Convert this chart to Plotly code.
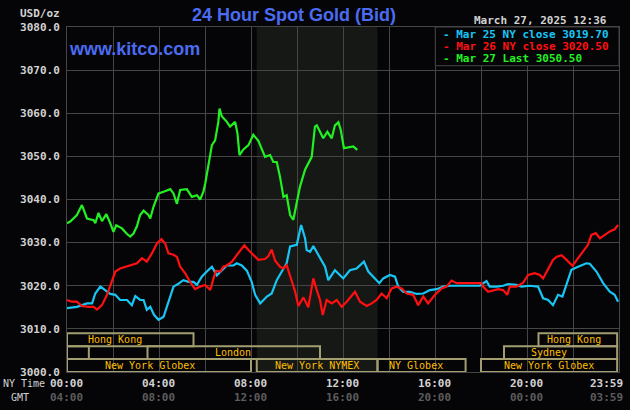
import plotly.graph_objects as go

# ---------------- data ----------------
t_mar25 = [0.00, 0.43, 0.87, 1.09, 1.23, 1.45, 1.66, 1.88, 2.10, 2.31, 2.61, 2.82, 2.97, 3.18, 3.33,
           3.47, 3.62, 3.79, 3.98, 4.20, 4.34, 4.49, 4.63, 4.85, 5.06, 5.28, 5.50, 5.65, 5.86, 6.08,
           6.30, 6.51, 6.73, 6.95, 7.24, 7.38, 7.60, 7.82, 8.03, 8.18, 8.40, 8.69, 8.90, 9.12, 9.34,
           9.55, 9.70, 9.99, 10.18, 10.35, 10.42, 10.57, 10.71, 10.97, 11.22, 11.36, 11.65, 12.01,
           12.30, 12.59, 12.91, 13.10, 13.32, 13.58, 13.75, 14.04, 14.26, 14.40, 14.62, 14.91, 15.20,
           15.49, 15.78, 16.07, 16.36, 16.65, 17.95, 18.24, 18.38, 18.68, 18.96, 19.18, 19.54, 19.76,
           20.12, 20.48, 20.70, 20.92, 21.13, 21.35, 21.54, 21.72, 21.93, 22.22, 22.58, 22.73, 23.02,
           23.31, 23.60, 23.81, 23.96]
p_mar25 = [3014.8, 3015.1, 3015.9, 3015.9, 3018.2, 3019.8, 3019.0, 3018.1, 3017.9, 3016.7, 3016.7,
           3015.5, 3017.6, 3016.7, 3016.7, 3014.4, 3015.1, 3013.2, 3012.1, 3012.8, 3015.1, 3017.5,
           3019.8, 3020.5, 3021.3, 3020.9, 3020.9, 3020.2, 3022.1, 3023.3, 3024.4, 3022.4, 3023.5,
           3024.7, 3024.7, 3025.2, 3024.7, 3023.5, 3020.9, 3017.9, 3015.9, 3017.5, 3018.2, 3021.3,
           3023.3, 3025.2, 3029.1, 3029.5, 3034.1, 3031.0, 3028.3, 3027.9, 3029.2, 3026.7, 3024.4,
           3021.3, 3023.6, 3021.7, 3023.6, 3024.0, 3025.6, 3023.3, 3022.1, 3020.6, 3021.7, 3022.5,
           3022.1, 3019.8, 3018.6, 3018.6, 3018.1, 3018.2, 3019.0, 3019.2, 3019.8, 3020.0, 3020.0,
           3021.1, 3019.8, 3019.8, 3020.0, 3020.4, 3020.2, 3019.8, 3020.0, 3019.8, 3017.1, 3016.7,
           3015.5, 3017.9, 3017.5, 3020.6, 3023.7, 3024.4, 3025.2, 3025.1, 3023.3, 3020.6, 3018.6,
           3017.9, 3016.3]

t_mar26 = [0.00, 0.22, 0.43, 0.65, 0.94, 1.16, 1.30, 1.52, 1.74, 1.95, 2.10, 2.31, 2.53, 2.75, 3.04,
           3.26, 3.47, 3.69, 3.91, 4.10, 4.27, 4.41, 4.63, 4.78, 4.92, 5.14, 5.35, 5.57, 5.79, 6.01,
           6.23, 6.37, 6.48, 6.66, 6.80, 6.95, 7.17, 7.38, 7.56, 7.71, 7.89, 8.10, 8.32, 8.61, 8.76,
           8.90, 9.05, 9.26, 9.41, 9.55, 9.77, 9.92, 10.06, 10.28, 10.49, 10.71, 10.86, 11.00, 11.12,
           11.29, 11.51, 11.73, 11.94, 12.16, 12.52, 12.74, 13.03, 13.25, 13.46, 13.68, 13.90, 14.12,
           14.33, 14.55, 14.77, 15.05, 15.27, 15.49, 15.70, 16.00, 16.29, 16.50, 16.72, 16.94, 18.02,
           18.09, 18.31, 18.53, 18.74, 18.96, 19.14, 19.25, 19.54, 19.83, 20.05, 20.34, 20.56, 20.70,
           20.92, 21.13, 21.28, 21.50, 21.72, 21.98, 22.22, 22.43, 22.65, 22.80, 22.99, 23.17, 23.38,
           23.60, 23.81, 23.96]
p_mar26 = [3016.7, 3016.3, 3016.3, 3015.3, 3015.1, 3015.1, 3014.5, 3015.5, 3017.9, 3021.3, 3023.3,
           3024.0, 3024.4, 3024.7, 3025.2, 3026.4, 3025.6, 3027.5, 3029.8, 3030.8, 3029.8, 3027.5,
           3027.2, 3026.7, 3024.4, 3022.9, 3020.9, 3019.2, 3019.8, 3020.2, 3019.0, 3021.7, 3023.5,
           3023.3, 3024.4, 3024.7, 3025.6, 3027.1, 3028.3, 3029.4, 3028.3, 3027.1, 3026.0, 3026.2,
           3026.9, 3028.4, 3025.8, 3024.4, 3024.0, 3024.8, 3020.9, 3018.6, 3015.3, 3017.3, 3015.0,
           3021.7, 3019.0, 3016.7, 3013.2, 3016.7, 3015.9, 3016.7, 3015.1, 3016.3, 3018.6, 3016.3,
           3015.3, 3015.9, 3016.7, 3018.2, 3017.1, 3019.4, 3019.8, 3019.4, 3018.2, 3017.9, 3015.5,
           3017.5, 3015.9, 3017.9, 3019.4, 3019.8, 3021.2, 3020.6, 3020.6, 3019.8, 3018.6, 3019.0,
           3019.2, 3019.0, 3017.9, 3019.8, 3019.8, 3020.7, 3022.5, 3022.9, 3022.5, 3021.7, 3024.0,
           3026.0, 3026.7, 3027.1, 3026.0, 3024.6, 3026.4, 3027.9, 3029.5, 3031.8, 3032.2, 3031.0,
           3031.8, 3032.6, 3033.1, 3034.1]

t_mar27 = [0.00, 0.14, 0.43, 0.65, 0.87, 1.16, 1.23, 1.37, 1.52, 1.71, 1.88, 2.02, 2.14, 2.39, 2.61,
           2.75, 2.89, 3.04, 3.18, 3.33, 3.54, 3.62, 3.76, 3.98, 4.20, 4.49, 4.63, 4.78, 4.92, 5.21,
           5.43, 5.65, 5.79, 5.93, 6.01, 6.15, 6.30, 6.44, 6.58, 6.63, 6.73, 6.95, 7.09, 7.31, 7.41,
           7.50, 7.67, 7.89, 8.10, 8.32, 8.61, 8.83, 8.97, 9.12, 9.26, 9.41, 9.55, 9.70, 9.84, 9.99,
           10.13, 10.35, 10.64, 10.78, 10.86, 11.00, 11.14, 11.32, 11.51, 11.65, 11.80, 11.90, 12.04,
           12.23, 12.45, 12.62]
p_mar27 = [3034.5, 3034.9, 3036.4, 3038.7, 3035.6, 3035.2, 3034.5, 3036.9, 3035.0, 3036.6, 3034.5,
           3032.5, 3034.0, 3033.3, 3032.0, 3031.4, 3032.1, 3033.8, 3036.4, 3037.4, 3036.4, 3035.6,
           3038.3, 3041.4, 3041.8, 3042.4, 3041.4, 3039.0, 3042.2, 3042.4, 3040.6, 3041.0, 3040.0,
           3041.8, 3043.7, 3047.6, 3052.6, 3053.7, 3058.0, 3061.1, 3059.3, 3058.0, 3056.9, 3058.0,
           3055.4, 3050.3, 3051.6, 3052.6, 3055.0, 3053.6, 3049.9, 3050.3, 3048.7, 3048.7, 3045.3,
           3040.6, 3041.0, 3036.4, 3035.3, 3039.3, 3043.0, 3046.9, 3049.9, 3056.9, 3057.2, 3055.7,
           3054.2, 3055.7, 3054.2, 3057.2, 3057.9, 3056.2, 3051.9, 3052.1, 3052.3, 3051.5]

legend_labels = ["- Mar 25 NY close 3019.70", "- Mar 26 NY close 3020.50", "- Mar 27 Last 3050.50"]

tick_hours = [0, 4, 8, 12, 16, 20, 24]
ny_labels = ["00:00", "04:00", "08:00", "12:00", "16:00", "20:00", "23:59"]
gmt_labels = ["04:00", "08:00", "12:00", "16:00", "20:00", "00:00", "03:59"]

# trading sessions (row 0 = New York, 1 = London/Sydney, 2 = Hong Kong)
session_names = ["Hong Kong", "", "London", "New York Globex", "New York NYMEX", "NY Globex",
                 "New York Globex", "Sydney", "Hong Kong"]
session_start = [0.0, 0.0, 3.5, 0.0, 8.25, 13.5, 18.0, 19.0, 20.5]
session_end = [5.5, 0.95, 11.0, 8.0, 13.5, 17.33, 23.92, 23.92, 23.92]
session_row = [2, 1, 1, 0, 0, 0, 0, 1, 2]

nymex_start, nymex_end = 8.25, 13.5

title_text = "24 Hour Spot Gold (Bid)"
site_text = "www.kitco.com"
date_text = "March 27, 2025 12:36"

# ---------------- layout helpers ----------------
W, H = 630, 410
L, R, T, B = 67, 11, 27, 38
PW, PH = W - L - R, H - T - B
Y0, Y1 = 3000, 3080
ROW_H = 3.0


def px(x):
    return (x - L) / PW


def py(y):
    return (H - B - y) / PH


BG = "#050507"
GRID = "#454545"
MONO = "DejaVu Sans Mono"
SANS = "Liberation Sans, Arial"
LIGHT = "#d2d2d2"
BLUE = "#4b6cf2"
GOLD = "#ffbf00"
BOX = "#a29e70"
CYAN, RED, GREEN = "#18c6f4", "#ff1010", "#22f022"

fig = go.Figure()
for t, p, c in [(t_mar25, p_mar25, CYAN), (t_mar26, p_mar26, RED), (t_mar27, p_mar27, GREEN)]:
    fig.add_trace(go.Scatter(x=t, y=p, mode="lines", line=dict(color=c, width=2.2),
                             hoverinfo="skip", showlegend=False))

shapes = [dict(type="rect", xref="x", yref="paper", x0=nymex_start, x1=nymex_end, y0=0, y1=1,
               fillcolor="#151815", line=dict(width=0), layer="below")]
annotations = []
label_at = [2.10, None, 7.2, 3.62, 10.87, 15.17, 20.95, 20.95, 22.03]
for name, s, e, r, la in zip(session_names, session_start, session_end, session_row, label_at):
    y0 = Y0 + r * ROW_H
    shapes.append(dict(type="rect", xref="x", yref="y", x0=s, x1=e, y0=y0, y1=y0 + ROW_H,
                       line=dict(color=BOX, width=2), fillcolor="rgba(0,0,0,0)", layer="above"))
    if name:
        annotations.append(dict(x=la, y=y0 + ROW_H / 2, xref="x", yref="y", text=name,
                                showarrow=False, font=dict(family=MONO, size=10, color=GOLD),
                                xanchor="center", yanchor="middle"))

# legend box
shapes.append(dict(type="rect", xref="paper", yref="paper", x0=px(435.3), x1=1, y0=py(65.7), y1=1,
                   fillcolor=BG, line=dict(color=GRID, width=1), layer="above"))
for lab, c, yy in zip(legend_labels, [CYAN, RED, GREEN], [34.5, 46.2, 58.8]):
    annotations.append(dict(x=px(441), y=py(yy), xref="paper", yref="paper", text=lab,
                            showarrow=False, font=dict(family=MONO, size=11, color=c, weight="bold"),
                            xanchor="left", yanchor="middle"))

annotations += [
    dict(x=px(294), y=py(15.5), xref="paper", yref="paper", text=title_text, showarrow=False,
         font=dict(family=SANS, size=18, color=BLUE, weight="bold"), xanchor="center", yanchor="middle"),
    dict(x=px(67), y=py(48.5), xref="paper", yref="paper", text=site_text, showarrow=False,
         font=dict(family=SANS, size=18, color=BLUE, weight="bold"), xanchor="left", yanchor="middle"),
    dict(x=px(609), y=py(20), xref="paper", yref="paper", text=date_text, showarrow=False,
         font=dict(family=MONO, size=11, color=LIGHT, weight="bold"), xanchor="right", yanchor="middle"),
    dict(x=px(62), y=py(13.3), xref="paper", yref="paper", text="USD/oz", showarrow=False,
         font=dict(family=MONO, size=11, color=LIGHT, weight="bold"), xanchor="right", yanchor="middle"),
    dict(x=px(1), y=py(383.5), xref="paper", yref="paper", text="NY Time", showarrow=False,
         font=dict(family=MONO, size=10, color=LIGHT), xanchor="left", yanchor="middle"),
    dict(x=px(19.5), y=py(397.5), xref="paper", yref="paper", text="GMT", showarrow=False,
         font=dict(family=MONO, size=10, color=LIGHT), xanchor="center", yanchor="middle"),
]
for h, a, g in zip(tick_hours, ny_labels, gmt_labels):
    last = h == tick_hours[-1]
    for txt, yy, col in [(a, 383.5, LIGHT), (g, 397.5, "#5c5c5c")]:
        annotations.append(dict(x=h, y=py(yy), xref="x", yref="paper", text=txt, showarrow=False,
                                font=dict(family=MONO, size=11, color=col, weight="bold"),
                                xanchor="right" if last else "center",
                                xshift=6 if last else -1, yanchor="middle"))

fig.update_layout(
    width=W, height=H, margin=dict(l=L, r=R, t=T, b=B, pad=0),
    paper_bgcolor=BG, plot_bgcolor=BG, showlegend=False,
    shapes=shapes, annotations=annotations,
    xaxis=dict(range=[0, 24], dtick=2, tick0=0, showgrid=True, gridcolor=GRID, gridwidth=1,
               zeroline=False, showticklabels=False, showline=True, linecolor=GRID, mirror=True,
               fixedrange=True),
    yaxis=dict(range=[Y0, Y1], dtick=10, tick0=3000, showgrid=True, gridcolor=GRID, gridwidth=1,
               zeroline=False, tickformat=".1f", showline=True, linecolor=GRID, mirror=True,
               ticks="outside", ticklen=4, tickcolor=BG,
               tickfont=dict(family=MONO, size=11, color=LIGHT, weight="bold"), fixedrange=True),
)

fig.write_html("out.html")
